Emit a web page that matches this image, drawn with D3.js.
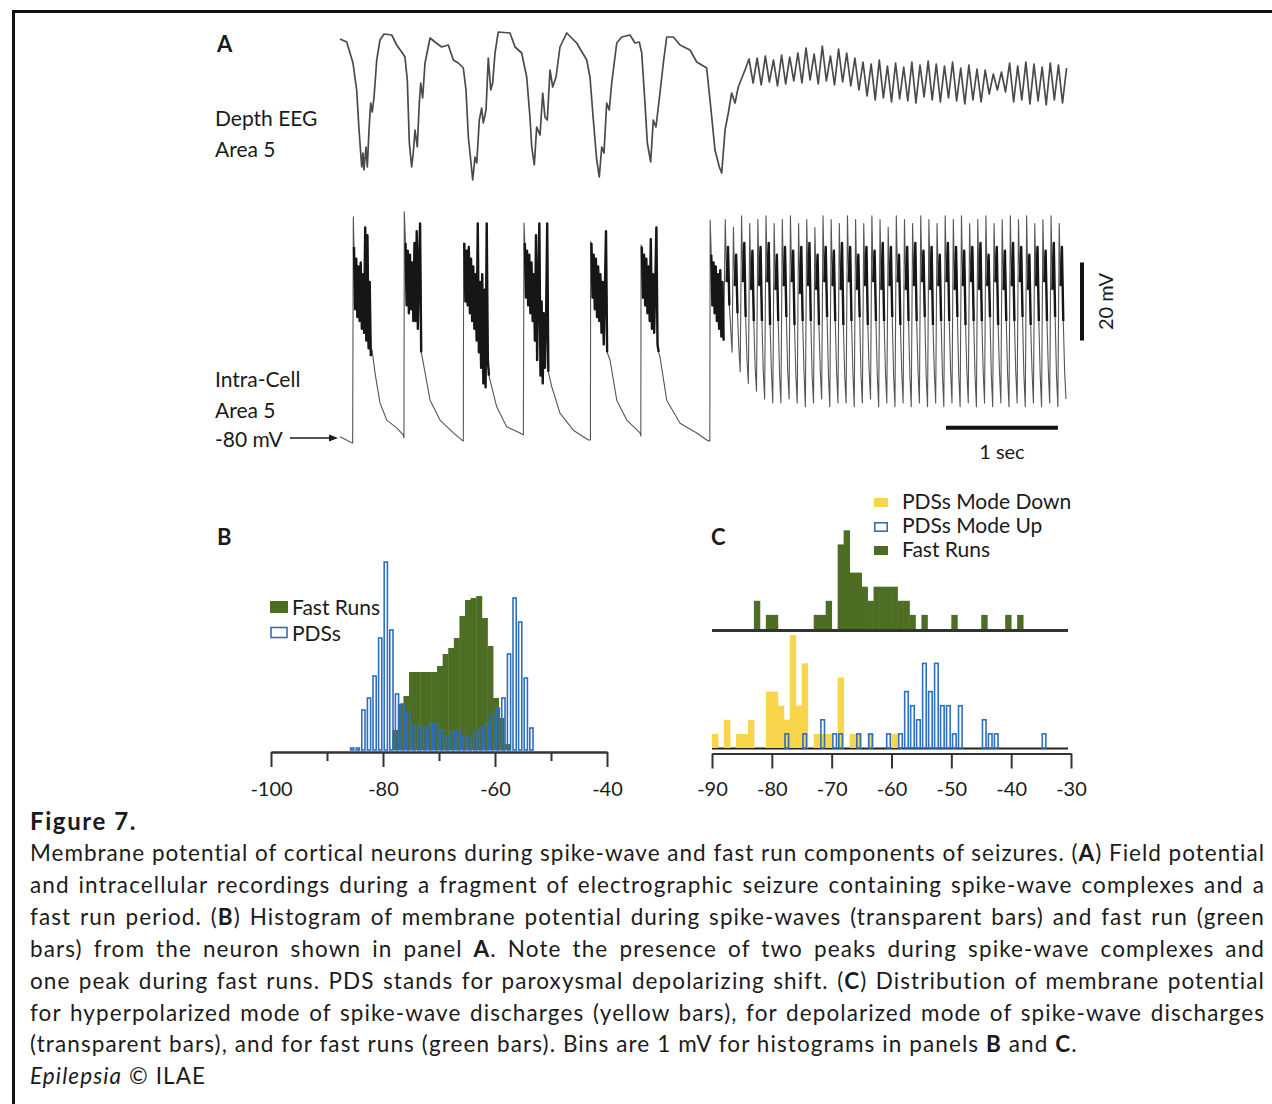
<!DOCTYPE html>
<html>
<head>
<meta charset="utf-8">
<script src="https://cdn.jsdelivr.net/npm/d3@7"></script>
<style>
body { margin: 0; background: #fff; }
svg { display: block; font-family: Lato, "Open Sans", sans-serif; }
</style>
</head>
<body>
<svg width="1272" height="1104"></svg>
<script>
// ---------- panel A : depth EEG (a.u.) and intracellular (mV), time in s ----------
var eegPoints = [
  [0,141],[0.06,138],[0.116,117],[0.149,90],[0.17,50],[0.194,13],[0.205,27],[0.214,10],[0.232,33],[0.244,13],[0.259,50],[0.274,77],[0.288,68],[0.304,83],[0.328,120],[0.357,140],[0.393,146],[0.462,145],[0.506,135],[0.551,128],[0.58,123],
  [0.601,100],[0.619,37],[0.64,13],[0.654,27],[0.67,50],[0.69,33],[0.708,77],[0.721,97],[0.738,82],[0.759,117],[0.804,142],[0.848,138],[0.908,133],[0.967,135],[1.012,120],[1.056,117],[1.101,112],
  [1.125,90],[1.146,43],[1.167,20],[1.185,0],[1.205,23],[1.221,17],[1.244,60],[1.265,72],[1.279,57],[1.304,70],[1.324,122],[1.346,90],[1.363,97],[1.384,127],[1.413,148],[1.518,147],[1.563,133],[1.622,127],[1.667,103],
  [1.696,63],[1.712,33],[1.735,15],[1.756,53],[1.786,45],[1.81,87],[1.83,63],[1.851,60],[1.875,110],[1.899,93],[1.929,103],[1.964,133],[2.024,147],[2.113,137],[2.203,120],[2.232,103],
  [2.262,60],[2.292,20],[2.315,3],[2.337,33],[2.357,27],[2.381,77],[2.404,70],[2.426,97],[2.471,137],[2.515,143],[2.589,145],[2.634,137],[2.672,138],[2.694,127],
  [2.723,77],[2.744,37],[2.774,18],[2.797,60],[2.821,53],[2.857,87],[2.887,117],[2.917,143],[2.976,143],[3.036,135],[3.125,130],[3.185,118],[3.274,112],
  [3.319,63],[3.348,30],[3.387,13],[3.408,7],[3.438,50],[3.467,67],[3.497,87],[3.527,77],[3.556,93],[3.616,110]
];
// fast run part of the EEG, sampled every half cycle
var eegFastStart = 3.652, eegFastStep = 0.03635;
var eegFast = [
  121,97,122,95,124,98,120,94,125,96,123,99,127,
  97,132,100,126,96,134,99,124,95,131,98,127,94,122,90,
  118,84,116,80,120,82,114,78,117,81,113,79,118,77,115,83,119,80,116,78,114,82,118,79,112,76,115,80,111,78,110,86,
  106,90,108,88,
  117,78,114,80,118,76,116,79,113,75,117,80,115,77,112
];

var icPoints = [
  [0,-79.7],[0.045,-80.3],[0.089,-81],[0.113,-81.3],[0.119,-23.3],
  [0.286,-57.4],[0.3125,-63.3],[0.357,-71],[0.417,-75.4],[0.506,-77.4],[0.565,-79.2],[0.571,-80],[0.574,-22],
  [0.744,-60.8],[0.804,-70.3],[0.893,-75.4],[1.012,-78.7],[1.087,-80.5],[1.101,-80.8],[1.104,-30],
  [1.354,-66.8],[1.399,-72],[1.488,-77.1],[1.607,-78.7],[1.637,-79.2],[1.643,-24.9],
  [1.89,-66.8],[1.964,-73.6],[2.083,-78],[2.217,-80.5],[2.236,-80.5],[2.238,-29.7],
  [2.411,-60],[2.471,-70.3],[2.56,-75.4],[2.679,-78.7],[2.686,-79.5],[2.688,-30.5],
  [2.857,-59.2],[2.917,-70.3],[3.036,-76.2],[3.185,-78.7],[3.274,-80.5],[3.302,-80.8],[3.305,-24.1]
];
// bursts of the spike-wave complexes: [start time, samples every burstStep]
var burstStep = 0.01;
var icBursts = [
  [0.125, [-31,-47,-34,-49,-36,-50,-35,-52,-38,-53,-26,-55,-28,-57,-40,-59]],
  [0.585, [-30,-46,-32,-48,-33,-47,-35,-50,-30,-50,-27,-52,-36,-25,-58]],
  [1.11,  [-30,-45,-32,-46,-31,-48,-34,-50,-36,-52,-38,-55,-25,-58,-40,-62,-38,-66,-42,-67,-25,-60,-64]],
  [1.65,  [-30,-44,-32,-46,-33,-48,-35,-50,-38,-55,-28,-60,-40,-25,-64,-45,-66,-48,-62,-50,-25,-63]],
  [2.245, [-30,-44,-33,-47,-34,-49,-36,-50,-38,-53,-40,-56,-42,-27,-58]],
  [2.695, [-31,-44,-33,-46,-34,-48,-36,-50,-29,-52,-38,-53,-40,-26,-56,-58]],
  [3.315, [-33,-46,-35,-48,-36,-50,-38,-52,-37,-54,-40,-55]]
];
// fast run cycles: spike top, burst, decay, trough (6 samples per cycle)
var icFastStart = 3.44, icFastStep = 0.01212;
var icFast = [
  [-24,-40,-31,-46,-52,-58],[-26,-41,-33,-48,-57,-63],[-23,-40,-30,-49,-60,-66],[-25,-42,-32,-50,-62,-68],
  [-24,-41,-31,-50,-63,-70],[-23,-40,-30,-51,-63,-71],[-25,-42,-33,-50,-64,-71],[-24,-41,-31,-49,-63,-70],
  [-23,-40,-32,-51,-64,-71],[-25,-43,-31,-50,-63,-72],[-24,-41,-30,-50,-64,-71],[-26,-42,-33,-51,-63,-70],
  [-23,-40,-31,-49,-64,-72],[-24,-41,-32,-50,-63,-71],[-25,-42,-30,-51,-64,-71],[-23,-40,-31,-50,-63,-72],
  [-24,-42,-33,-49,-64,-71],[-25,-41,-31,-51,-63,-70],[-23,-40,-32,-50,-64,-72],[-24,-42,-30,-50,-63,-71],
  [-26,-41,-31,-49,-64,-72],[-23,-40,-33,-51,-63,-71],[-24,-42,-31,-50,-64,-72],[-25,-41,-30,-50,-63,-71],
  [-23,-40,-32,-49,-64,-72],[-24,-42,-31,-51,-63,-71],[-25,-41,-33,-50,-64,-72],[-23,-40,-30,-50,-63,-71],
  [-24,-42,-31,-49,-64,-72],[-23,-41,-32,-51,-63,-71],[-25,-40,-31,-50,-64,-72],[-24,-42,-30,-50,-63,-71],
  [-23,-41,-33,-49,-64,-72],[-25,-40,-31,-51,-63,-71],[-24,-42,-32,-50,-64,-72],[-23,-41,-30,-50,-63,-71],
  [-24,-40,-31,-49,-64,-72],[-23,-42,-33,-51,-63,-71],[-25,-41,-31,-50,-64,-72],[-24,-40,-32,-50,-63,-71],
  [-23,-42,-30,-49,-64,-72],[-25,-41,-31,-50,-63,-70]
];

// ---------- panel B : histogram, 1 mV bins ----------
var pdsStartB = -86;
var pdsCountsB = [1,1,20,26,37,56,94,60,28,23,19,12,12,11,13,13,10,7,9,10,7,6,9,11,13,18,21,26,48,76,64,36,11];
var fastStartB = -78.35;
var fastCountsB = [10,23,27,39,39,39,39,39,42,48,51,56,67,75,76,77,66,52,26,16,3];
var ticksB = [-100,-80,-60,-40];
var minorTicksB = [-90,-70,-50];

// ---------- panel C : histograms, 1 mV bins ----------
var fastStartC = -83;
var fastCountsC = [2,0,1,1,0,0,0,0,0,0,1,1,2,0,6,7,4,4,3,2,3,3,3,3,2,2,1,0,1,0,0,0,0,1,0,0,0,0,1,0,0,0,1,0,1];
var downStartC = -90;
var downCountsC = [1,0,2,0,1,1,2,0,0,4,4,3,2,8,3,6,0,1,1,1,0,5,0,1,1,0,1,0,0,0,1];
var upStartC = -78;
var upCountsC = [1,0,0,1,0,0,2,0,1,1,0,0,1,0,1,0,0,1,0,1,4,3,2,6,4,6,3,3,1,3,0,0,0,2,1,1,0,0,0,0,0,0,0,1];
var ticksC = [-90,-80,-70,-60,-50,-40,-30];

var captionTitle = "Figure 7.";
var captionLines = [
  "Membrane potential of cortical neurons during spike-wave and fast run components of seizures. (*A*) Field potential",
  "and intracellular recordings during a fragment of electrographic seizure containing spike-wave complexes and a",
  "fast run period. (*B*) Histogram of membrane potential during spike-waves (transparent bars) and fast run (green",
  "bars) from the neuron shown in panel *A*. Note the presence of two peaks during spike-wave complexes and",
  "one peak during fast runs. PDS stands for paroxysmal depolarizing shift. (*C*) Distribution of membrane potential",
  "for hyperpolarized mode of spike-wave discharges (yellow bars), for depolarized mode of spike-wave discharges",
  "(transparent bars), and for fast runs (green bars). Bins are 1 mV for histograms in panels *B* and *C*.",
  "_Epilepsia_ © ILAE"
];

var green = "#4e6d24", blue = "#2f6fc0", yellow = "#f9d54c", ink = "#1b1b1b", axisCol = "#333";

var svg = d3.select("svg");

// frame
svg.append("path").attr("d", "M13.5,1104V11.5H1272")
  .attr("fill", "none").attr("stroke", "#111").attr("stroke-width", 3);

// ----- panel A -----
var xT = d3.scaleLinear().domain([0, 6.5]).range([340, 1068]);
var yEEG = d3.scaleLinear().domain([0, 150]).range([180, 30]);
var yIC = d3.scaleLinear().domain([-80, -20]).range([438, 204]);

var eegTrace = eegPoints.concat(eegFast.map(function (v, i) { return [eegFastStart + i * eegFastStep, v]; }));

var icTrace = icPoints.slice();
var burstTraces = [];
icBursts.forEach(function (b) {
  var pts = b[1].map(function (v, i) { return [b[0] + i * burstStep, v]; });
  burstTraces.push(pts);
  icTrace = icTrace.concat(pts);
});
icFast.forEach(function (row, c) {
  var pts = row.map(function (v, i) { return [icFastStart + (c * row.length + i) * icFastStep, v]; });
  burstTraces.push(pts.slice(1, 4));
  icTrace = icTrace.concat(pts);
});
icTrace.sort(function (a, b) { return a[0] - b[0]; });

var traceLine = function (y) {
  return d3.line().x(function (d) { return xT(d[0]); }).y(function (d) { return y(d[1]); });
};

svg.append("path").datum(eegTrace)
  .attr("fill", "none").attr("stroke", "#4a4a4a").attr("stroke-width", 1.7).attr("stroke-linejoin", "round")
  .attr("d", traceLine(yEEG));

svg.append("path").datum(icTrace)
  .attr("fill", "none").attr("stroke", "#555").attr("stroke-width", 1.1).attr("stroke-linejoin", "round")
  .attr("d", traceLine(yIC));

// dense spike bursts read as solid black in the original
svg.append("g").selectAll("path").data(burstTraces).enter().append("path")
  .attr("fill", "none").attr("stroke", "#161616").attr("stroke-width", 2.4).attr("stroke-linejoin", "round")
  .attr("d", traceLine(yIC));

var lab = svg.append("g").attr("font-size", 21).attr("fill", ink);
lab.append("text").attr("x", 215).attr("y", 126).text("Depth EEG");
lab.append("text").attr("x", 215).attr("y", 157).text("Area 5");
lab.append("text").attr("x", 215).attr("y", 387).text("Intra-Cell");
lab.append("text").attr("x", 215).attr("y", 418).text("Area 5");
lab.append("text").attr("x", 215).attr("y", 447).text("-80 mV");

// arrow to -80 mV
svg.append("line").attr("x1", 290).attr("x2", xT(0) - 8)
  .attr("y1", yIC(-80)).attr("y2", yIC(-80)).attr("stroke", ink).attr("stroke-width", 1.6);
svg.append("path")
  .attr("d", "M" + (xT(0) - 2) + "," + yIC(-80) + "l-9,-3.5v7z").attr("fill", ink);

// scale bars
svg.append("line").attr("x1", xT(6.625)).attr("x2", xT(6.625))
  .attr("y1", yIC(-55)).attr("y2", yIC(-35)).attr("stroke", "#111").attr("stroke-width", 4);
svg.append("text").attr("transform", "translate(1113," + yIC(-45) + ") rotate(-90)")
  .attr("text-anchor", "middle").attr("font-size", 20).attr("fill", ink).text("20 mV");
svg.append("line").attr("x1", xT(5.41)).attr("x2", xT(6.41))
  .attr("y1", yIC(-77.4)).attr("y2", yIC(-77.4)).attr("stroke", "#111").attr("stroke-width", 4);
svg.append("text").attr("x", xT(5.91)).attr("y", yIC(-77.4) + 31)
  .attr("text-anchor", "middle").attr("font-size", 20).attr("fill", ink).text("1 sec");

// panel letters
var letters = svg.append("g").attr("font-size", 22).attr("font-weight", "bold").attr("fill", ink);
letters.append("text").attr("x", 217).attr("y", 52).text("A");
letters.append("text").attr("x", 217).attr("y", 545).text("B");
letters.append("text").attr("x", 711).attr("y", 545).text("C");

// ----- panel B -----
var xB = d3.scaleLinear().domain([-100, -40]).range([271, 607]);
var yB = d3.scaleLinear().domain([0, 100]).range([750, 550]);

svg.append("g").selectAll("rect").data(fastCountsB).enter().append("rect")
  .attr("x", function (d, i) { return xB(fastStartB + i); })
  .attr("width", function (d, i) { return xB(fastStartB + i + 1) - xB(fastStartB + i) + 0.4; })
  .attr("y", function (d) { return yB(d); })
  .attr("height", function (d) { return yB(0) - yB(d); })
  .attr("fill", green);

svg.append("g").selectAll("rect").data(pdsCountsB).enter().append("rect")
  .attr("x", function (d, i) { return xB(pdsStartB + i) + 1.2; })
  .attr("width", function (d, i) { return xB(pdsStartB + i + 1) - xB(pdsStartB + i) - 2.4; })
  .attr("y", function (d) { return yB(d); })
  .attr("height", function (d) { return yB(0) - yB(d); })
  .attr("fill", "none").attr("stroke", blue).attr("stroke-width", 1.6);

function styleAxis(g) {
  g.select(".domain").attr("stroke", axisCol).attr("stroke-width", 2);
  g.selectAll(".tick line").attr("stroke", axisCol).attr("stroke-width", 2);
  g.selectAll(".tick text").attr("fill", ink).attr("font-size", 20).attr("font-family", "Lato, sans-serif");
}
svg.append("g").attr("transform", "translate(0,752)")
  .call(d3.axisBottom(xB).tickValues(minorTicksB).tickSize(9).tickSizeOuter(0).tickFormat(""))
  .call(styleAxis);
svg.append("g").attr("transform", "translate(0,752)")
  .call(d3.axisBottom(xB).tickValues(ticksB).tickSize(15).tickSizeOuter(0).tickPadding(15)
    .tickFormat(function (d) { return String(d); }))
  .call(styleAxis);

var legB = svg.append("g").attr("font-size", 21).attr("fill", ink);
legB.append("rect").attr("x", 270).attr("y", 601).attr("width", 18).attr("height", 12).attr("fill", green);
legB.append("text").attr("x", 292).attr("y", 615).text("Fast Runs");
legB.append("rect").attr("x", 271).attr("y", 627.5).attr("width", 16).attr("height", 10)
  .attr("fill", "none").attr("stroke", blue).attr("stroke-width", 1.6);
legB.append("text").attr("x", 292).attr("y", 641).text("PDSs");

// ----- panel C -----
var xC = d3.scaleLinear().domain([-90, -30]).range([712, 1071]);
var yCf = d3.scaleLinear().domain([0, 10]).range([629, 488]);
var yCl = d3.scaleLinear().domain([0, 10]).range([748, 607]);

svg.append("line").attr("x1", xC(-90)).attr("x2", xC(-30.5)).attr("y1", 748.5).attr("y2", 748.5)
  .attr("stroke", "#222").attr("stroke-width", 2);

svg.append("g").selectAll("rect").data(fastCountsC).enter().append("rect")
  .attr("x", function (d, i) { return xC(fastStartC + i); })
  .attr("width", function (d, i) { return xC(fastStartC + i + 1) - xC(fastStartC + i) + 0.4; })
  .attr("y", function (d) { return yCf(d); })
  .attr("height", function (d) { return yCf(0) - yCf(d); })
  .attr("fill", green);
svg.append("line").attr("x1", xC(-90)).attr("x2", xC(-30.5)).attr("y1", 630.5).attr("y2", 630.5)
  .attr("stroke", axisCol).attr("stroke-width", 3);

svg.append("g").selectAll("rect").data(downCountsC).enter().append("rect")
  .attr("x", function (d, i) { return xC(downStartC + i); })
  .attr("width", function (d, i) { return xC(downStartC + i + 1) - xC(downStartC + i) + 0.4; })
  .attr("y", function (d) { return yCl(d); })
  .attr("height", function (d) { return yCl(0) - yCl(d); })
  .attr("fill", yellow);

svg.append("g").selectAll("rect").data(upCountsC.map(function (v, i) { return [upStartC + i, v]; })
    .filter(function (d) { return d[1] > 0; })).enter().append("rect")
  .attr("x", function (d) { return xC(d[0]) + 1.2; })
  .attr("width", function (d) { return xC(d[0] + 1) - xC(d[0]) - 2.4; })
  .attr("y", function (d) { return yCl(d[1]); })
  .attr("height", function (d) { return yCl(0) - yCl(d[1]); })
  .attr("fill", "none").attr("stroke", blue).attr("stroke-width", 1.6);

svg.append("g").attr("transform", "translate(0,753.5)")
  .call(d3.axisBottom(xC).tickValues(ticksC).tickSize(15).tickSizeOuter(0).tickPadding(13)
    .tickFormat(function (d) { return String(d); }))
  .call(styleAxis);

var legC = svg.append("g").attr("font-size", 21).attr("fill", ink);
legC.append("rect").attr("x", 874).attr("y", 498).attr("width", 14).attr("height", 9).attr("fill", yellow);
legC.append("text").attr("x", 902).attr("y", 509).text("PDSs Mode Down");
legC.append("rect").attr("x", 874.8).attr("y", 522.8).attr("width", 12.4).attr("height", 8.4)
  .attr("fill", "none").attr("stroke", blue).attr("stroke-width", 1.6);
legC.append("text").attr("x", 902).attr("y", 533).text("PDSs Mode Up");
legC.append("rect").attr("x", 874).attr("y", 546).attr("width", 14).attr("height", 9).attr("fill", green);
legC.append("text").attr("x", 902).attr("y", 557).text("Fast Runs");

// ----- caption -----
svg.append("text").attr("x", 30).attr("y", 830).attr("font-size", 24).attr("font-weight", "bold")
  .attr("letter-spacing", 1.6).attr("fill", ink).text(captionTitle);

var capSpacing = 1.1, capWidth = 1235;
var cap = svg.append("g").attr("fill", ink).attr("font-size", 22.5).attr("letter-spacing", capSpacing);
var capTexts = captionLines.map(function (line, i) {
  var t = cap.append("text").attr("x", 30).attr("y", 861 + i * 31.9);
  line.split(/(\*[^*]+\*|_[^_]+_)/).forEach(function (seg) {
    if (!seg) return;
    var ts = t.append("tspan");
    if (seg[0] === "*") ts.attr("font-weight", "bold").text(seg.slice(1, -1));
    else if (seg[0] === "_") ts.attr("font-style", "italic").text(seg.slice(1, -1));
    else ts.text(seg);
  });
  return t;
});
// justify the full paragraph lines to the text block width
capTexts.slice(0, 6).forEach(function (t, i) {
  var len = t.node().getComputedTextLength();
  var chars = t.text().length;
  if (len > capWidth) {
    // too long: tighten the letter spacing of this line instead
    t.attr("letter-spacing", capSpacing - (len - capWidth) / chars);
    len = t.node().getComputedTextLength();
  }
  var spaces = captionLines[i].split(" ").length - 1;
  t.attr("word-spacing", Math.max(0, (capWidth - len) / spaces));
});
</script>
</body>
</html>
